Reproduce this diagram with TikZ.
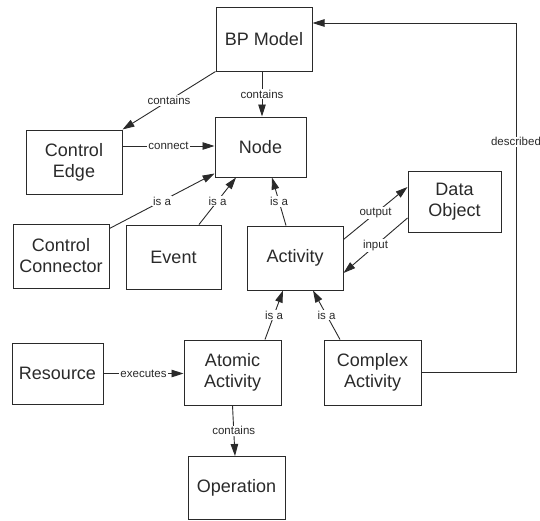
\documentclass[tikz,border=0pt]{standalone}
\usepackage{fontspec}
\setmainfont{Liberation Sans}
\usetikzlibrary{arrows.meta}
\definecolor{ink}{HTML}{2A2A2A}
\tikzset{
  box/.style={draw=ink, line width=1pt, fill=white, inner sep=0pt, align=center,
    text=ink, font=\fontsize{18}{21}\selectfont},
  lbl/.style={fill=white, inner sep=1pt, text=ink, font=\fontsize{11.5}{12}\selectfont},
  arr/.style={draw=ink, line width=0.9pt, -{Triangle[length=12pt,width=7.5pt]}},
}
\begin{document}
\begin{tikzpicture}[x=1pt,y=-1pt]
\useasboundingbox (0,0) rectangle (540,520);

% classes
\node[box, minimum width=96pt, minimum height=64pt] (bp) at (264,39) {BP Model};
\node[box, minimum width=91pt, minimum height=60pt] (node) at (260.5,147) {Node};
\node[box, minimum width=96pt, minimum height=64pt] (cedge) at (74,162) {Control\\Edge};
\node[box, minimum width=96pt, minimum height=64pt] (cconn) at (61,256) {Control\\Connector};
\node[box, minimum width=95pt, minimum height=64pt] (event) at (173.5,257) {Event};
\node[box, minimum width=96pt, minimum height=64pt] (act) at (295,258) {Activity};
\node[box, minimum width=93pt, minimum height=61pt] (data) at (454.5,201.5) {Data\\Object};
\node[box, minimum width=91pt, minimum height=61pt] (res) at (57.5,373.5) {Resource};
\node[box, minimum width=97pt, minimum height=65pt] (atomic) at (232.5,372.5) {Atomic\\Activity};
\node[box, minimum width=97pt, minimum height=65pt] (complex) at (372.5,372.5) {Complex\\Activity};
\node[box, minimum width=97pt, minimum height=63pt] (oper) at (236.5,488) {Operation};

% relations
\draw[arr] (bp.south west) -- node[lbl] {contains} (cedge.north east);
\draw[arr] ([xshift=-2pt]bp.south) -- node[lbl] {contains} ([xshift=1.5pt]node.north);
\draw[arr] ([yshift=16pt]cedge.east) -- node[lbl] {connect} ([yshift=16pt]cedge.east -| node.west);
\draw[arr] ([yshift=-5pt]cconn.north east) -- node[lbl] {is a} ([yshift=4pt]node.south west);
\draw[arr] ([xshift=25.5pt]event.north) -- node[lbl] {is a} ([xshift=-24.5pt]node.south);
\draw[arr] ([xshift=-9pt]act.north) -- node[lbl] {is a} ([xshift=11.5pt]node.south);
\draw[arr] ([yshift=-14pt]act.north east) -- node[lbl] {output} ([yshift=14.5pt]data.west);
\draw[arr] ([yshift=-16.5pt]data.west) -- node[lbl] {input} ([yshift=-15pt]act.east);
\draw[arr] ([xshift=32.5pt]atomic.north) -- node[lbl] {is a} ([xshift=-12pt]act.south);
\draw[arr] ([xshift=-32.5pt]complex.north) -- node[lbl] {is a} ([xshift=18pt]act.south);
\draw[arr] (res.east) -- node[lbl] {executes} (res.east -| atomic.west);
\draw[arr] (atomic.south) -- node[lbl] {contains} ([xshift=-1.5pt]oper.north);

\coordinate (rail) at (516,23);
\draw[arr] (complex.east) -| node[lbl, pos=0.83] {described} (rail) -- ([yshift=16pt]bp.east);
\end{tikzpicture}
\end{document}
